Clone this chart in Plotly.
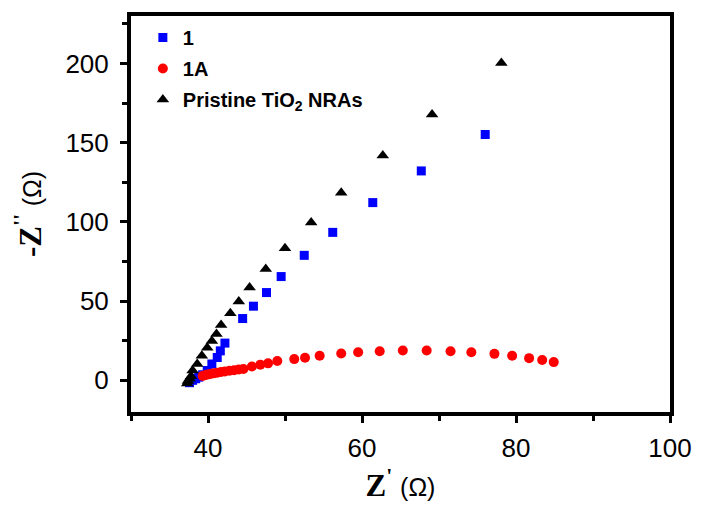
import plotly.graph_objects as go

# Series "1" (blue squares)
x_1 = [37.6, 38.0, 38.4, 38.8, 39.3, 39.9, 40.5, 41.2, 41.6, 42.2, 44.5, 45.9, 47.6, 49.5, 52.5, 56.2, 61.4, 67.7, 76.0]
y_1 = [-1.5, 0.0, 1.0, 2.0, 3.5, 6.2, 10.3, 14.4, 18.6, 23.5, 39.0, 46.8, 55.4, 65.5, 78.9, 93.4, 112.2, 132.2, 155.2]

# Series "1A" (red circles)
x_1A = [39.3, 39.6, 39.9, 40.3, 40.7, 41.2, 41.7, 42.2, 42.8, 43.4, 44.0, 44.6, 45.7, 46.8, 47.8, 49.0, 51.2, 52.6,
        54.5, 57.3, 59.5, 62.3, 65.3, 68.4, 71.5, 74.2, 77.2, 79.5, 81.7, 83.4, 84.9]
y_1A = [2.8, 3.2, 3.6, 4.0, 4.4, 4.8, 5.2, 5.6, 6.0, 6.4, 6.8, 7.2, 8.7, 9.9, 10.7, 12.2, 13.4, 14.2,
        15.5, 16.9, 17.7, 18.4, 18.8, 18.8, 18.4, 17.7, 16.7, 15.5, 14.0, 12.8, 11.5]

# Series "Pristine TiO2 NRAs" (black triangles)
x_P = [37.3, 37.4, 37.6, 37.8, 38.0, 38.6, 39.2, 39.9, 40.5, 41.1, 41.7, 42.9, 44.0, 45.4, 47.5, 50.0, 53.4, 57.3, 62.7, 69.1, 78.1]
y_P = [-2.0, -0.5, 1.0, 2.5, 6.2, 10.3, 15.5, 20.6, 24.8, 29.3, 35.0, 42.3, 49.8, 58.6, 70.2, 83.4, 99.6, 118.4, 142.0, 167.8, 200.4]

x_ticks = [40, 60, 80, 100]
y_ticks = [0, 50, 100, 150, 200]

fig = go.Figure()
fig.add_trace(go.Scatter(x=x_1, y=y_1, mode="markers", name="1", legendgroup="a",
                         marker=dict(symbol="square", size=9, color="#0000ff")))
fig.add_trace(go.Scatter(x=x_1A, y=y_1A, mode="markers", name="1A", legendgroup="b",
                         marker=dict(symbol="circle", size=10, color="#ff0000")))
fig.add_trace(go.Scatter(x=x_P, y=y_P, mode="markers", name="Pristine TiO<sub>2</sub> NRAs", legendgroup="c",
                         marker=dict(symbol="triangle-up", size=11, color="#000000")))

axis_common = dict(
    showline=True, linewidth=4, linecolor="black", mirror=True,
    ticks="outside", ticklen=7, tickwidth=3, tickcolor="black",
    showgrid=False, zeroline=False, ticklabeloverflow="allow",
    tickfont=dict(family="Liberation Sans, Arial", size=26, color="black"),
)

omega = "<span style='font-family:Liberation Sans;font-size:25px'>(Ω)</span>"

fig.update_xaxes(range=[30, 100], tickvals=x_ticks, ticklabelstandoff=3,
                 minor=dict(ticks="outside", ticklen=5, tickwidth=3, tickcolor="black", dtick=10, tick0=30),
                 title=dict(text="<b>Z</b><sup><b>'</b></sup> " + omega,
                            font=dict(family="Liberation Serif, Times New Roman", size=31, color="black"),
                            standoff=14),
                 **axis_common)
fig.update_yaxes(range=[-20, 230], tickvals=y_ticks, ticklabelstandoff=6,
                 minor=dict(ticks="outside", ticklen=5, tickwidth=3, tickcolor="black", dtick=25, tick0=-25),
                 title=dict(text="<b>-Z</b><sup><b>''</b></sup> " + omega,
                            font=dict(family="Liberation Serif, Times New Roman", size=31, color="black"),
                            standoff=16),
                 **axis_common)

fig.update_layout(
    width=688, height=495,
    margin=dict(l=123, r=26, t=4, b=88),
    plot_bgcolor="white", paper_bgcolor="white",
    showlegend=True,
    legend=dict(x=0.022, y=0.995, xanchor="left", yanchor="top",
                bgcolor="rgba(0,0,0,0)", tracegroupgap=2,
                font=dict(family="Liberation Sans, Arial", size=20, color="black", weight="bold")),
)

fig.write_html("out.html")
